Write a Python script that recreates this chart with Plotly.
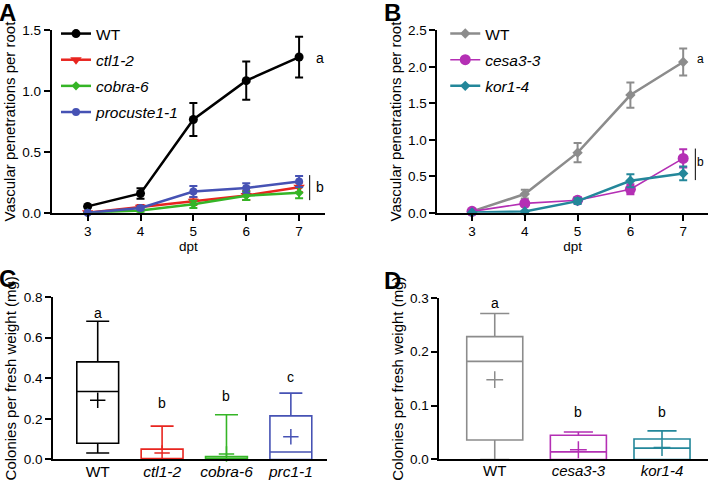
import plotly.graph_objects as go

# ---------------- data ----------------
dpt = [3, 4, 5, 6, 7]

# Panel A
a_wt = [0.053, 0.159, 0.767, 1.086, 1.28]
a_wt_err = [0.0, 0.043, 0.135, 0.157, 0.167]
a_ctl = [0.0, 0.045, 0.095, 0.143, 0.21]
a_ctl_err = [0.0, 0.02, 0.03, 0.037, 0.04]
a_cob = [0.0, 0.02, 0.07, 0.14, 0.165]
a_cob_err = [0.0, 0.015, 0.03, 0.035, 0.045]
a_prc = [0.0, 0.04, 0.175, 0.204, 0.257]
a_prc_err = [0.0, 0.015, 0.045, 0.04, 0.045]

# Panel B
b_wt = [0.02, 0.257, 0.824, 1.613, 2.065]
b_wt_err = [0.0, 0.06, 0.133, 0.173, 0.186]
b_cesa = [0.02, 0.129, 0.173, 0.323, 0.745]
b_cesa_err = [0.0, 0.04, 0.04, 0.07, 0.125]
b_kor = [0.005, 0.018, 0.16, 0.439, 0.54]
b_kor_err = [0.0, 0.01, 0.04, 0.09, 0.095]

# Panel C (box stats)
c_cats = ["WT", "ctl1-2", "cobra-6", "prc1-1"]
c_ticktext = ["WT", "<i>ctl1-2</i>", "<i>cobra-6</i>", "<i>prc1-1</i>"]
c_low = [0.032, 0.0, 0.0, 0.0]
c_q1 = [0.080, 0.0, 0.0, 0.0]
c_med = [0.335, 0.0, 0.0, 0.037]
c_q3 = [0.481, 0.051, 0.014, 0.215]
c_high = [0.681, 0.164, 0.22, 0.327]
c_mean = [0.292, 0.032, 0.027, 0.112]
c_letters = ["a", "b", "b", "c"]
c_letter_y = [0.72, 0.28, 0.314, 0.406]
c_colors = ["#000000", "#e8251f", "#35b526", "#4652b4"]

# Panel D (box stats)
d_cats = ["WT", "cesa3-3", "kor1-4"]
d_ticktext = ["WT", "<i>cesa3-3</i>", "<i>kor1-4</i>"]
d_low = [0.0, 0.0, 0.0]
d_q1 = [0.036, 0.0, 0.0]
d_med = [0.182, 0.014, 0.021]
d_q3 = [0.228, 0.045, 0.038]
d_high = [0.271, 0.051, 0.053]
d_mean = [0.148, 0.018, 0.022]
d_letters = ["a", "b", "b"]
d_letter_y = [0.29, 0.088, 0.088]
d_colors = ["#8c8c8c", "#b42fb4", "#23879a"]

FONT = "Liberation Sans, Arial, Helvetica, sans-serif"

fig = go.Figure()


def line_trace(y, err, name, color, symbol, size, width, xa, ya, legend, group):
    return go.Scatter(
        x=dpt, y=y, name=name, mode="lines+markers",
        line=dict(color=color, width=width),
        marker=dict(color=color, symbol=symbol, size=size),
        error_y=dict(type="data", array=err, visible=True, color=color,
                     thickness=2, width=4),
        xaxis=xa, yaxis=ya, legend=legend, legendgroup=group,
        cliponaxis=False,
    )


# Panel A
fig.add_trace(line_trace(a_wt, a_wt_err, "WT", "#000000", "circle", 9, 2.5, "x", "y", "legend", "a1"))
fig.add_trace(line_trace(a_ctl, a_ctl_err, "<i>ctl1-2</i>", "#e8251f", "triangle-down", 10, 2.5, "x", "y", "legend", "a2"))
fig.add_trace(line_trace(a_cob, a_cob_err, "<i>cobra-6</i>", "#35b526", "diamond", 7, 2.5, "x", "y", "legend", "a3"))
fig.add_trace(line_trace(a_prc, a_prc_err, "<i>procuste1-1</i>", "#4652b4", "circle", 8, 2.5, "x", "y", "legend", "a4"))

# Panel B
fig.add_trace(line_trace(b_wt, b_wt_err, "WT", "#8c8c8c", "diamond", 8, 2.5, "x2", "y2", "legend2", "b1"))
fig.add_trace(line_trace(b_cesa, b_cesa_err, "<i>cesa3-3</i>", "#b42fb4", "circle", 11, 1.6, "x2", "y2", "legend2", "b2"))
fig.add_trace(line_trace(b_kor, b_kor_err, "<i>kor1-4</i>", "#23879a", "diamond", 8, 2.5, "x2", "y2", "legend2", "b3"))

# Panel C boxes
for i, cat in enumerate(c_cats):
    fig.add_trace(go.Box(
        x=[cat], q1=[c_q1[i]], median=[c_med[i]], q3=[c_q3[i]],
        lowerfence=[c_low[i]], upperfence=[c_high[i]],
        line=dict(color=c_colors[i], width=1.6), fillcolor="rgba(0,0,0,0)",
        width=0.65, whiskerwidth=0.55, boxpoints=False, showlegend=False,
        xaxis="x3", yaxis="y3",
    ))
fig.add_trace(go.Scatter(
    x=c_cats, y=c_mean, mode="markers", showlegend=False,
    marker=dict(symbol="cross-thin", size=11, color=c_colors,
                line=dict(color=c_colors, width=1.5)),
    xaxis="x3", yaxis="y3", cliponaxis=False,
))

# Panel D boxes
for i, cat in enumerate(d_cats):
    fig.add_trace(go.Box(
        x=[cat], q1=[d_q1[i]], median=[d_med[i]], q3=[d_q3[i]],
        lowerfence=[d_low[i]], upperfence=[d_high[i]],
        line=dict(color=d_colors[i], width=1.6), fillcolor="rgba(0,0,0,0)",
        width=0.67, whiskerwidth=0.52, boxpoints=False, showlegend=False,
        xaxis="x4", yaxis="y4",
    ))
fig.add_trace(go.Scatter(
    x=d_cats, y=d_mean, mode="markers", showlegend=False,
    marker=dict(symbol="cross-thin", size=12, color=d_colors,
                line=dict(color=d_colors, width=1.5)),
    xaxis="x4", yaxis="y4", cliponaxis=False,
))

axis_common = dict(showline=True, linecolor="black", linewidth=1.8,
                   ticks="outside", ticklen=6, tickwidth=1.8, tickcolor="black",
                   showgrid=False, zeroline=False,
                   tickfont=dict(family=FONT, size=13.5, color="black"))

ytitle_font = dict(family=FONT, size=15, color="black")
xtitle_font = dict(family=FONT, size=13.5, color="black")

fig.update_layout(
    width=709, height=491,
    margin=dict(l=0, r=0, t=0, b=0),
    paper_bgcolor="white", plot_bgcolor="white",
    font=dict(family=FONT, color="black"),
    xaxis=dict(domain=[0.0729, 0.4584], range=[2.32, 7.49], tickvals=dpt,
               ticklabelstandoff=-1,
               title=dict(text="dpt", font=xtitle_font, standoff=2),
               anchor="y", **axis_common),
    yaxis=dict(domain=[0.5676, 0.9511], range=[0, 1.5], tickvals=[0, 0.5, 1.0, 1.5],
               tickformat=".1f", anchor="x",
               title=dict(text="Vascular penetrations per root", font=ytitle_font, standoff=3),
               **axis_common),
    xaxis2=dict(domain=[0.6168, 0.9986], range=[2.343, 7.47], tickvals=dpt,
                ticklabelstandoff=-1,
                title=dict(text="dpt", font=xtitle_font, standoff=2),
                anchor="y2", **axis_common),
    yaxis2=dict(domain=[0.5676, 0.9511], range=[0, 2.5],
                tickvals=[0, 0.5, 1.0, 1.5, 2.0, 2.5], tickformat=".1f", anchor="x2",
                title=dict(text="Vascular penetrations per root", font=ytitle_font, standoff=3),
                **axis_common),
    xaxis3=dict(domain=[0.0748, 0.4608], type="category", categoryorder="array",
                categoryarray=c_cats, range=[-0.694, 3.557],
                tickvals=c_cats, ticktext=c_ticktext, anchor="y3",
                showline=True, linecolor="black", linewidth=1.8, ticks="",
                ticklabelstandoff=-3,
                showgrid=False, zeroline=False,
                tickfont=dict(family=FONT, size=15.5, color="black")),
    yaxis3=dict(domain=[0.0495, 0.3904], range=[0, 0.8],
                tickvals=[0, 0.2, 0.4, 0.6, 0.8], tickformat=".1f", anchor="x3",
                title=dict(text="Colonies per fresh weight (mg)", font=ytitle_font, standoff=3),
                **axis_common),
    xaxis4=dict(domain=[0.6196, 0.9986], type="category", categoryorder="array",
                categoryarray=d_cats, range=[-0.663, 2.55],
                tickvals=d_cats, ticktext=d_ticktext, anchor="y4",
                showline=True, linecolor="black", linewidth=1.8, ticks="",
                ticklabelstandoff=-3,
                showgrid=False, zeroline=False,
                tickfont=dict(family=FONT, size=15, color="black")),
    yaxis4=dict(domain=[0.0495, 0.389], range=[0, 0.3],
                tickvals=[0, 0.1, 0.2, 0.3], tickformat=".1f", anchor="x4",
                title=dict(text="Colonies per fresh weight (mg)", font=ytitle_font, standoff=3),
                **axis_common),
    legend=dict(x=0.079, y=0.979, xanchor="left", yanchor="top",
                font=dict(family=FONT, size=15.5, color="black"),
                bgcolor="rgba(0,0,0,0)", tracegroupgap=3, itemwidth=30),
    legend2=dict(x=0.628, y=0.979, xanchor="left", yanchor="top",
                 font=dict(family=FONT, size=15.5, color="black"),
                 bgcolor="rgba(0,0,0,0)", tracegroupgap=3, itemwidth=30),
)

annotations = []
# panel letters
for txt, px, py in [("A", -0.004, 1.02), ("B", 0.539, 1.02), ("C", -0.004, 0.462), ("D", 0.539, 0.457)]:
    annotations.append(dict(text=f"<b>{txt}</b>", xref="paper", yref="paper", x=px, y=py,
                            xanchor="left", yanchor="top", showarrow=False,
                            font=dict(family=FONT, size=24, color="black")))
# significance letters A/B
annotations.append(dict(text="a", xref="x", yref="y", x=7.39, y=1.27, showarrow=False,
                        font=dict(family=FONT, size=14)))
annotations.append(dict(text="b", xref="x", yref="y", x=7.39, y=0.21, showarrow=False,
                        font=dict(family=FONT, size=14)))
annotations.append(dict(text="a", xref="x2", yref="y2", x=7.44, y=2.1, showarrow=False,
                        xanchor="right", font=dict(family=FONT, size=12)))
annotations.append(dict(text="b", xref="x2", yref="y2", x=7.44, y=0.69, showarrow=False,
                        xanchor="right", font=dict(family=FONT, size=12)))
for cat, lt, ly in zip(c_cats, c_letters, c_letter_y):
    annotations.append(dict(text=lt, xref="x3", yref="y3", x=cat, y=ly, showarrow=False,
                            font=dict(family=FONT, size=14)))
for cat, lt, ly in zip(d_cats, d_letters, d_letter_y):
    annotations.append(dict(text=lt, xref="x4", yref="y4", x=cat, y=ly, showarrow=False,
                            font=dict(family=FONT, size=14)))
fig.update_layout(annotations=annotations)

fig.update_layout(shapes=[
    dict(type="line", xref="x", yref="y", x0=7.2, x1=7.2, y0=0.104, y1=0.31,
         line=dict(color="black", width=1)),
    dict(type="line", xref="x2", yref="y2", x0=7.23, x1=7.23, y0=0.448, y1=0.88,
         line=dict(color="black", width=1)),
])

fig.write_html("out.html",
               config={"displayModeBar": False},
               post_script="document.body.style.margin='0';document.body.style.overflow='hidden';")
